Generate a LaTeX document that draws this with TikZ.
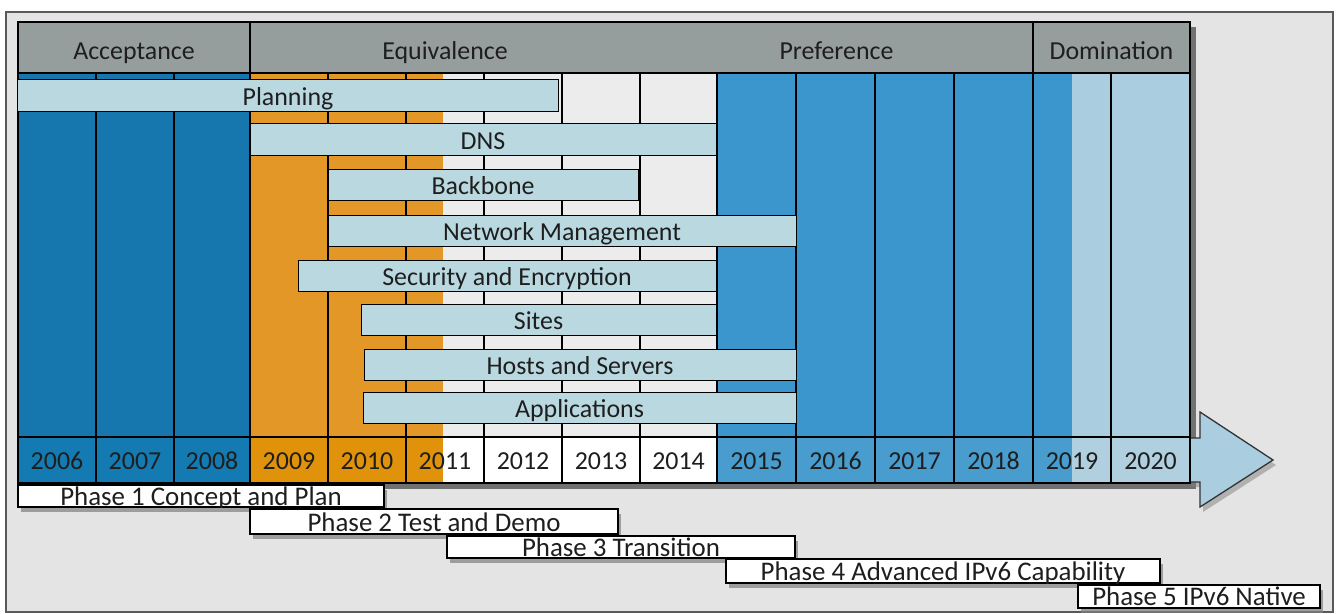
\documentclass[tikz,border=0pt]{standalone}
\usepackage{fontspec}
\setmainfont{Carlito}
\usetikzlibrary{shadows,calc}
\definecolor{dkblue}{RGB}{22,118,174}
\definecolor{dkblueY}{RGB}{20,122,178}
\definecolor{orangeB}{RGB}{227,151,38}
\definecolor{orangeY}{RGB}{224,147,10}
\definecolor{medblue}{RGB}{60,150,206}
\definecolor{medblueY}{RGB}{72,156,206}
\definecolor{ltblue}{RGB}{170,205,224}
\definecolor{ltblueY}{RGB}{176,208,224}
\definecolor{wcol}{RGB}{236,236,236}
\definecolor{barblue}{RGB}{186,216,224}
\definecolor{hdrgrey}{RGB}{150,157,157}
\definecolor{bggrey}{RGB}{228,228,228}
\definecolor{txt}{RGB}{30,30,30}
\begin{document}
\begin{tikzpicture}[x=1bp,y=-1bp,
  lbl/.style={font=\fontsize{26}{30}\selectfont, text=txt},
  hdr/.style={lbl, fill=hdrgrey, inner sep=0, outer sep=0, minimum height=51bp, text height=24bp, text depth=0bp},
  colbody/.style={draw=black, line width=1.3bp, inner sep=0, outer sep=0, minimum height=364bp},
  yearcell/.style={lbl, draw=black, line width=1.3bp, inner sep=0, outer sep=0, minimum height=46bp, text height=19bp, text depth=0bp},
  barbox/.style={lbl, draw=black, line width=1bp, fill=barblue, inner sep=0, outer sep=0, text height=19bp, text depth=0bp},
  phasebox/.style={draw=black, line width=1.8bp, fill=white, inner sep=0, outer sep=0,
     drop shadow={shadow xshift=3bp, shadow yshift=-5bp, opacity=0.7}},
  phasetext/.style={font=\fontsize{27}{30}\selectfont, text=txt, inner sep=0, anchor=base}
]
\useasboundingbox (0,0) rectangle (1339,614);
% frame
\draw[draw=black!65, fill=bggrey, line width=1.2bp] (6,12) rectangle (1333,612);
% shadow behind chart
\fill[black, opacity=0.5] (23,27) rectangle (1196,489);
% arrow
\filldraw[fill=ltblue, draw=black!80, line width=1.3bp,
  drop shadow={shadow xshift=3bp, shadow yshift=-5bp, opacity=0.5}]
  (1188,438) -- (1200,438) -- (1200,412) -- (1273,460) -- (1200,507) -- (1200,482) -- (1188,482) -- cycle;
% header
\node[hdr, minimum width=232bp] (hA) at (134,47.5) {Acceptance};
\node[hdr, minimum width=390bp] (hE) at (445,47.5) {Equivalence};
\node[hdr, minimum width=393bp] (hP) at (836.5,47.5) {Preference};
\node[hdr, minimum width=157bp] (hD) at (1111.5,47.5) {Domination};
\draw[line width=1.3bp] (hA.north west) rectangle (hD.south east);
\draw[line width=1.3bp] (hA.north east) -- (hA.south east);
\draw[line width=1.3bp] (hD.north west) -- (hD.south west);
% columns
\foreach \yr/\xl/\xr/\bc/\yc/\sp/\sb/\sy in {
  2006/18/96/dkblue/dkblueY/0/dkblue/dkblueY,
  2007/96/174/dkblue/dkblueY/0/dkblue/dkblueY,
  2008/174/250/dkblue/dkblueY/0/dkblue/dkblueY,
  2009/250/328/orangeB/orangeY/0/orangeB/orangeY,
  2010/328/406/orangeB/orangeY/0/orangeB/orangeY,
  2011/406/484/orangeB/orangeY/41/wcol/white,
  2012/484/562/wcol/white/0/wcol/white,
  2013/562/640/wcol/white/0/wcol/white,
  2014/640/717/wcol/white/0/wcol/white,
  2015/717/796/medblue/medblueY/0/medblue/medblueY,
  2016/796/875/medblue/medblueY/0/medblue/medblueY,
  2017/875/954/medblue/medblueY/0/medblue/medblueY,
  2018/954/1033/medblue/medblueY/0/medblue/medblueY,
  2019/1033/1111/medblue/medblueY/39/ltblue/ltblueY,
  2020/1111/1190/ltblue/ltblueY/0/ltblue/ltblueY}
{
  \pgfmathsetmacro\cx{(\xl+\xr)/2}
  \pgfmathsetmacro\cw{\xr-\xl}
  \node[colbody, fill=\bc, minimum width=\cw bp,
    path picture={\fill[\sb] ([xshift=-\sp bp]path picture bounding box.south east) rectangle (path picture bounding box.north east);}]
    (c\yr) at (\cx,255) {};
  \node[yearcell, fill=\yc, minimum width=\cw bp,
    path picture={\fill[\sy] ([xshift=-\sp bp]path picture bounding box.south east) rectangle (path picture bounding box.north east);}]
    (y\yr) at (\cx,460) {\yr};
}
% activity bars
\node[barbox, minimum width=540bp, minimum height=32bp] (planning) at (288,96) {Planning};
\node[barbox, minimum width=466bp, minimum height=32bp] (dns) at (483,140) {DNS};
\node[barbox, minimum width=310bp, minimum height=31bp] (backbone) at (483,185) {Backbone};
\node[barbox, minimum width=468bp, minimum height=31bp] (netman) at (562,230.5) {Network Management};
\node[barbox, minimum width=418bp, minimum height=31bp] (security) at (507,275.5) {Security and Encryption};
\node[barbox, minimum width=355bp, minimum height=31bp] (sites) at (538.5,319.5) {Sites};
\node[barbox, minimum width=432bp, minimum height=31bp] (hosts) at (580,365) {Hosts and Servers};
\node[barbox, minimum width=433bp, minimum height=31bp] (apps) at (579.5,408) {Applications};
% phases
\node[phasebox, minimum width=366bp, minimum height=22bp] (p1) at (201,496) {};
\node[phasebox, minimum width=368bp, minimum height=25bp] (p2) at (434,521.5) {};
\node[phasebox, minimum width=348bp, minimum height=22bp] (p3) at (621,547) {};
\node[phasebox, minimum width=434bp, minimum height=24bp] (p4) at (943,571) {};
\node[phasebox, minimum width=242bp, minimum height=23bp] (p5) at (1199,596.5) {};
\begin{scope}
  \clip (p1.south west) rectangle (p1.north east);
  \node[phasetext] (p1t) at ([yshift=2bp]p1.south) {Phase 1 Concept and Plan};
\end{scope}
\begin{scope}
  \clip (p2.south west) rectangle (p2.north east);
  \node[phasetext] (p2t) at ([yshift=2.5bp]p2.south) {Phase 2 Test and Demo};
\end{scope}
\begin{scope}
  \clip (p3.south west) rectangle (p3.north east);
  \node[phasetext] (p3t) at ([yshift=2bp]p3.south) {Phase 3 Transition};
\end{scope}
\begin{scope}
  \clip (p4.south west) rectangle (p4.north east);
  \node[phasetext] (p4t) at ([yshift=3bp]p4.south) {Phase 4 Advanced IPv6 Capability};
\end{scope}
\begin{scope}
  \clip (p5.south west) rectangle (p5.north east);
  \node[phasetext] (p5t) at ([yshift=3bp]p5.south) {Phase 5 IPv6 Native};
\end{scope}
\end{tikzpicture}
\end{document}
